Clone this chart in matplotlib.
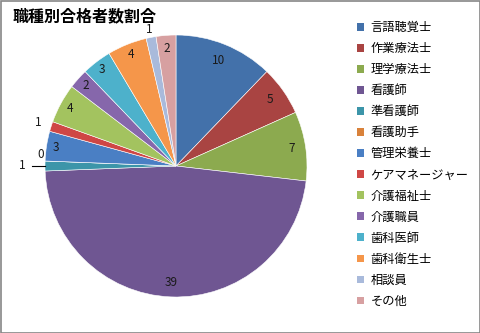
import matplotlib
matplotlib.use('Agg')
import matplotlib.pyplot as plt
import numpy as np
from matplotlib.patches import Rectangle

plt.rcParams['font.family'] = ['Noto Sans CJK JP', 'DejaVu Sans']

title = '職種別合格者数割合'
jobs = ['言語聴覚士', '作業療法士', '理学療法士', '看護師', '準看護師', '看護助手',
        '管理栄養士', 'ケアマネージャー', '介護福祉士', '介護職員', '歯科医師',
        '歯科衛生士', '相談員', 'その他']
counts = [10, 5, 7, 39, 1, 0, 3, 1, 4, 2, 3, 4, 1, 2]
colors = ['#4371AA', '#A94442', '#8CAA4F', '#6F5692', '#3C95A9', '#D9823B',
          '#4A7FC4', '#CF4745', '#A3C35F', '#8667AB', '#4DB1CB', '#F5964A',
          '#A9BADB', '#D7A0A1']

# label radius (fraction of pie radius) for each slice
label_r = [0.87, 0.88, 0.89, 0.89, 1.17, 1.06, 0.93, 1.1, 0.92, 0.92, 0.93, 0.92, 1.06, 0.9]

W, H = 481, 333
fig = plt.figure(figsize=(W / 100, H / 100), dpi=100)
fig.patches.append(Rectangle((0.5 / W, 0.5 / H), 1 - 1.5 / W, 1 - 1.5 / H,
                             transform=fig.transFigure, fill=False,
                             edgecolor='#868686', linewidth=1.2))

cx, cy, rad = 176, 166, 131
ax = fig.add_axes([(cx - rad) / W, (H - cy - rad) / H, 2 * rad / W, 2 * rad / H])
wedges, _ = ax.pie(counts, colors=colors, startangle=90, counterclock=False,
                   radius=1.0, wedgeprops=dict(edgecolor='white', linewidth=0.4))
ax.set_xlim(-1, 1)
ax.set_ylim(-1, 1)
ax.axis('off')

for i, w in enumerate(wedges):
    mid = np.deg2rad((w.theta1 + w.theta2) / 2)
    r = label_r[i]
    x, y = r * np.cos(mid), r * np.sin(mid)
    if jobs[i] == '看護助手':
        y += 0.05
        x += 0.03
    ax.text(x, y, str(counts[i]), ha='center', va='center', fontsize=8.5,
            color='#1a1a1a', clip_on=False)
    if jobs[i] == '準看護師':
        ax.plot([-1.1, -1.0], [y, y], color='black', linewidth=0.8, clip_on=False)

fig.text(13 / W, 1 - 16 / H, title, fontsize=11.5, fontweight='bold',
         ha='left', va='center')

handles = [Rectangle((0, 0), 1, 1, facecolor=c, edgecolor='none') for c in colors]
fig.legend(handles, jobs, loc='upper left', bbox_to_anchor=(357 / W, 1 - 21 / H),
           frameon=False, fontsize=8.8, handlelength=0.6, handleheight=0.6,
           handletextpad=0.5, labelspacing=0.66, borderpad=0, borderaxespad=0)

fig.savefig('out.png', dpi=100)
